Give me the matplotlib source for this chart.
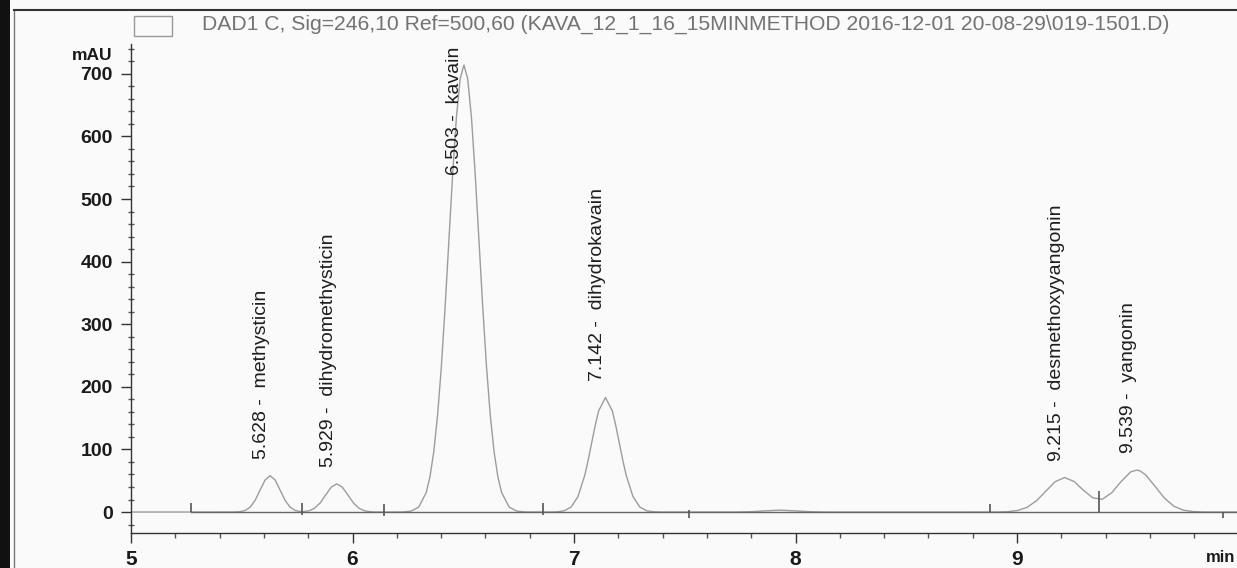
import matplotlib.pyplot as plt
from matplotlib.lines import Line2D
from matplotlib.patches import Rectangle
from matplotlib.ticker import MultipleLocator

plt.rcParams["font.family"] = ["Liberation Sans", "DejaVu Sans"]

TITLE = ("DAD1 C, Sig=246,10 Ref=500,60 "
         "(KAVA_12_1_16_15MINMETHOD 2016-12-01 20-08-29\\019-1501.D)")

# DAD trace: retention time (min) / absorbance (mAU)
time_min = [
    5.000, 5.400,
    5.448, 5.4705, 5.493, 5.5155, 5.538, 5.5605, 5.583, 5.6055, 5.628,
    5.6505, 5.673, 5.6955, 5.718, 5.7405, 5.763,
    5.779, 5.804, 5.829, 5.854, 5.879, 5.904, 5.929, 5.954, 5.979,
    6.004, 6.029, 6.054, 6.079, 6.104, 6.160,
    6.197, 6.231, 6.265, 6.299, 6.333, 6.350, 6.367, 6.384, 6.401, 6.418,
    6.435, 6.452, 6.469, 6.486, 6.503, 6.520, 6.537, 6.554, 6.571, 6.588,
    6.605, 6.622, 6.639, 6.656, 6.673, 6.707, 6.741, 6.775, 6.810,
    6.894, 6.925, 6.956, 6.987, 7.018, 7.049, 7.0645, 7.080, 7.0955, 7.111,
    7.142, 7.173, 7.1885, 7.204, 7.2195, 7.235, 7.266, 7.297, 7.328,
    7.359, 7.390,
    7.720, 7.800, 7.860, 7.930, 8.000, 8.060, 8.140, 8.800,
    8.875, 8.9175, 8.960, 9.0025, 9.045, 9.0875, 9.130, 9.1725, 9.215,
    9.2575, 9.300, 9.3425, 9.385, 9.4275, 9.470, 9.5125, 9.539, 9.555,
    9.5815, 9.624, 9.6665, 9.709, 9.7515, 9.794, 9.8365, 9.879, 9.993,
]
signal_mau = [
    0.0, 0.0,
    0.02, 0.13, 0.64, 2.55, 7.85, 18.8, 35.2, 51.2, 58.0,
    51.2, 35.2, 18.8, 7.85, 2.55, 0.82,
    0.71, 1.98, 6.09, 14.6, 27.3, 39.7, 45.0, 39.7, 27.3,
    14.6, 6.09, 1.98, 0.5, 0.1, 0.0,
    0.03, 0.24, 1.56, 7.9, 31.3, 56.8, 96.6, 154.4, 231.8, 326.9,
    433.0, 538.9, 630.1, 692.0, 714.0, 692.0, 630.1, 538.9, 433.0, 326.9,
    231.8, 154.4, 96.6, 56.8, 31.3, 7.9, 1.56, 0.24, 0.0,
    0.06, 0.40, 2.03, 8.03, 24.8, 59.4, 83.8, 111.0, 138.1, 161.5,
    183.0, 161.5, 138.1, 111.0, 83.8, 59.4, 24.8, 8.03, 2.03,
    0.40, 0.06,
    0.0, 0.54, 1.82, 3.0, 1.82, 0.54, 0.0, 0.0,
    0.02, 0.12, 0.61, 2.42, 7.44, 17.9, 33.4, 48.5, 55.1,
    48.8, 34.7, 22.5, 20.4, 30.8, 48.8, 64.0, 67.0, 65.8,
    59.1, 40.6, 21.8, 9.07, 2.94, 0.74, 0.15, 0.02, 0.0,
]

# peak table
peak_rt = [5.628, 5.929, 6.503, 7.142, 9.215, 9.539]
peak_height = [58, 45, 714, 183, 55, 67]
peak_name = ["methysticin", "dihydromethysticin", "kavain",
             "dihydrokavain", "desmethoxyyangonin", "yangonin"]

# integration event marks: time, lower and upper end (mAU)
event_t = [5.27, 5.77, 6.14, 6.86, 7.52, 8.88, 9.37, 9.93]
event_lo = [0, -5, -6, -5, -10, 0, 0, -10]
event_hi = [14, 14, 13, 15, 3, 13, 34, 0]

X_MIN, X_MAX = 5.0, 9.993
Y_MIN, Y_MAX = -33.5, 747.6

W, H = 1237, 568


def px(x, y):
    """pixel position (from top-left) -> figure fraction"""
    return x / W, 1 - y / H


fig = plt.figure(figsize=(W / 100, H / 100), dpi=100, facecolor="#fafafa")

# page furniture: scan edge, frame, legend box and signal title
fig.add_artist(Rectangle((0, 0), 10 / W, 1, transform=fig.transFigure,
                         color="#111111", lw=0))
fig.add_artist(Line2D([14 / W, 14 / W], [0, 1 - 10 / H],
                      transform=fig.transFigure, color="#777777", lw=1.0))
fig.add_artist(Line2D([14 / W, 1], [1 - 10 / H, 1 - 10 / H],
                      transform=fig.transFigure, color="#333333", lw=1.5))
bx, by = px(134, 36)
fig.add_artist(Rectangle((bx, by), 38 / W, 20 / H, transform=fig.transFigure,
                         fill=False, edgecolor="#999999", lw=1.0))
tx, ty = px(202, 24)
fig.text(tx, ty, TITLE, ha="left", va="center", fontsize=15.2, color="#737373")

ax = fig.add_axes([131 / W, 35 / H, 1106 / W, 489 / H])
ax.set_facecolor("none")

ax.plot(time_min, signal_mau, color="#9c9c9c", lw=1.0, zorder=2)
ax.plot([event_t[0], X_MAX], [0, 0], color="#666666", lw=1.0, zorder=3)
ax.vlines(event_t, event_lo, event_hi, color="#555555", lw=1.2, zorder=3)

for rt, h, name in zip(peak_rt, peak_height, peak_name):
    label = f"{rt:.3f} -  {name}"
    if h > 500:
        # tall peak: label hangs from the top of the plot
        ax.annotate(label, xy=(rt, 0.995), xycoords=("data", "axes fraction"),
                    xytext=(-7, 0), textcoords="offset points",
                    rotation=90, ha="center", va="top",
                    fontsize=14, color="#1e1e1e")
    else:
        ax.annotate(label, xy=(rt, h), xytext=(-6, 12),
                    textcoords="offset points",
                    rotation=90, ha="center", va="bottom",
                    fontsize=14, color="#1e1e1e")

ax.set_xlim(X_MIN, X_MAX)
ax.set_ylim(Y_MIN, Y_MAX)

ax.xaxis.set_major_locator(MultipleLocator(1))
ax.xaxis.set_minor_locator(MultipleLocator(0.2))
ax.yaxis.set_major_locator(MultipleLocator(100))
ax.yaxis.set_minor_locator(MultipleLocator(20))

for side in ("top", "right"):
    ax.spines[side].set_visible(False)
for side in ("left", "bottom"):
    ax.spines[side].set_color("#333333")
    ax.spines[side].set_linewidth(1.0)

ax.tick_params(which="major", length=7, width=1.0, color="#333333")
ax.tick_params(which="minor", length=3.5, width=1.0, color="#555555")
ax.tick_params(axis="y", which="minor", direction="inout", length=5)
ax.tick_params(axis="x", which="major", pad=5, labelsize=15)
ax.tick_params(axis="y", which="major", pad=6, labelsize=14)
for lab in ax.get_xticklabels() + ax.get_yticklabels():
    lab.set_fontweight("bold")
    lab.set_color("#1a1a1a")

ax.text(-0.017, 0.977, "mAU", transform=ax.transAxes, ha="right",
        va="center", fontsize=12.5, fontweight="bold", color="#1a1a1a")
ax.text(0.9985, -0.051, "min", transform=ax.transAxes, ha="right",
        va="center", fontsize=12, fontweight="bold", color="#1a1a1a",
        clip_on=False)

fig.savefig("out.png", dpi=100, facecolor=fig.get_facecolor())
